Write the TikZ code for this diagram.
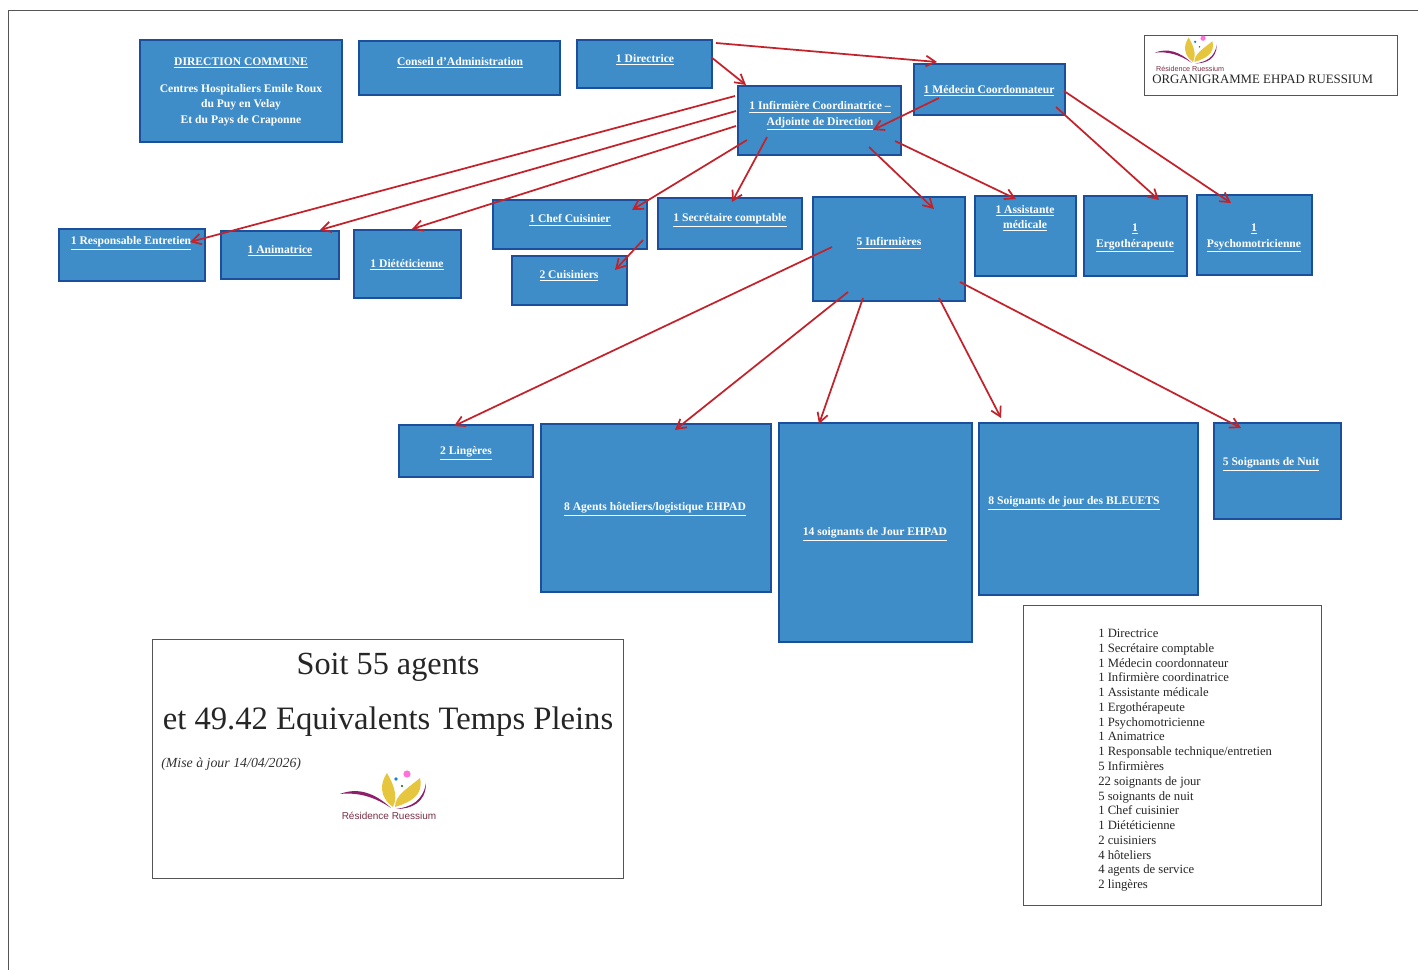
\documentclass[tikz,border=0pt]{standalone}
\usepackage{fontspec}
\setmainfont{Liberation Serif}
\setsansfont{Liberation Sans}
\usetikzlibrary{arrows.meta}
\definecolor{boxfill}{HTML}{3E8DC9}
\definecolor{boxline}{HTML}{1B4F9C}
\definecolor{arrowred}{HTML}{C4222B}
\definecolor{framegray}{HTML}{555555}
\definecolor{logoplum}{HTML}{8E1F6B}
\definecolor{logoyellow}{HTML}{E6C53F}
\definecolor{logotext}{HTML}{7A2F45}
\newcommand{\ulbox}[1]{$\underline{\hbox{#1}}$}
\tikzset{
  x=0.75pt,y=-0.75pt,
  bluebox/.style={draw=boxline,line width=1.6pt,fill=boxfill,inner sep=0pt},
  boxtext/.style={text=white,font=\bfseries\fontsize{8.7}{11.6}\selectfont,align=center,inner sep=0pt,yshift=-1.6pt},
  framebox/.style={draw=framegray,line width=0.7pt,fill=white,inner sep=0pt},
  redarrow/.style={draw=arrowred,line width=1.3pt,-{Straight Barb[length=7pt,width=8pt]}},
  logo/.pic={
    \fill[logoplum] (-53,-13) .. controls (-35,-20) and (-18,-14) .. (-2,1) .. controls (-18,-10) and (-35,-15) .. (-53,-13) -- cycle;
    \fill[logoyellow] (0,0) .. controls (-14,-10) and (-13,-24) .. (-6,-34) .. controls (-1,-25) and (6,-12) .. (0,0) -- cycle;
    \fill[logoyellow] (2,0) .. controls (2,-12) and (14,-18) .. (27,-29) .. controls (31,-12) and (18,-5) .. (2,0) -- cycle;
    \fill[logoplum] (3,2) .. controls (18,0) and (30,-6) .. (33,-24) .. controls (33,-4) and (18,2) .. (3,2) -- cycle;
    \fill[pink!60!magenta] (14,-33) circle[radius=3.6];
    \fill[cyan!70!blue] (3,-28) circle[radius=1.8];
    \fill[green!40!black] (9,-21) circle[radius=1.2];
    \node[transform shape,text=logotext,font=\sffamily\fontsize{7.5}{9}\selectfont,inner sep=0pt] (-text) at (-4,9) {Résidence Ruessium};
  }
}
\newcommand{\bx}[8]{%
  \node[bluebox,minimum width={(#4-#2-2)*0.75pt},minimum height={(#5-#3-2)*0.75pt}] (#1) at ({(#2+#4)/2},{(#3+#5)/2}) {};
  \node[boxtext] (#1-t) at (#6,#7) {#8};
}
\newcommand{\conn}[6]{\draw[redarrow] ([shift={(#2,#3)}]#1.center) -- ([shift={(#5,#6)}]#4.center);}
\begin{document}
\begin{tikzpicture}
\useasboundingbox (0,0) rectangle (1418,970);
\fill[white] (0,0) rectangle (1418,970);
\draw[framegray,line width=0.7pt] (8,970) -- (8,10) -- (1418,10);

\bx{dc}{139}{39}{343}{143}{241}{89.5}{\ulbox{DIRECTION COMMUNE}\\[9pt]Centres Hospitaliers Emile Roux\\du Puy en Velay\\Et du Pays de Craponne}
\bx{ca}{358}{40}{561}{96}{460}{61}{\ulbox{Conseil d’Administration}}
\bx{dir}{576}{39}{713}{89}{645}{58}{\ulbox{1 Directrice}}
\bx{inf}{737}{85}{902}{156}{820}{114}{\ulbox{1 Infirmière Coordinatrice –}\\\ulbox{Adjointe de Direction}}
\bx{med}{913}{63}{1066}{116}{989}{89}{\ulbox{1 Médecin Coordonnateur}}
\bx{resp}{58}{228}{206}{282}{131}{241}{\ulbox{1 Responsable Entretien}}
\bx{anim}{220}{230}{340}{280}{280}{249}{\ulbox{1 Animatrice}}
\bx{diet}{353}{229}{462}{299}{407}{263}{\ulbox{1 Diététicienne}}
\bx{chef}{492}{199}{648}{250}{570}{218}{\ulbox{1 Chef Cuisinier}}
\bx{cuis}{511}{255}{628}{306}{569}{274}{\ulbox{2 Cuisiniers}}
\bx{secr}{657}{197}{803}{250}{730}{218}{\ulbox{1 Secrétaire comptable}}
\bx{nur}{812}{196}{966}{302}{889}{241}{\ulbox{5 Infirmières}}
\bx{asst}{974}{195}{1077}{277}{1025}{216}{\ulbox{1 Assistante}\\\ulbox{médicale}}
\bx{ergo}{1083}{195}{1188}{277}{1135}{236}{\ulbox{1}\\\ulbox{Ergothérapeute}}
\bx{psy}{1196}{194}{1313}{276}{1254}{236}{\ulbox{1}\\\ulbox{Psychomotricienne}}
\bx{ling}{398}{424}{534}{478}{466}{451}{\ulbox{2 Lingères}}
\bx{agen}{540}{423}{772}{593}{655}{507}{\ulbox{8 Agents hôteliers/logistique EHPAD}}
\bx{soj}{778}{422}{973}{643}{875}{532}{\ulbox{14 soignants de Jour EHPAD}}
\bx{ble}{978}{422}{1199}{596}{1074}{501}{\ulbox{8 Soignants de jour des BLEUETS}}
\bx{nui}{1213}{422}{1342}{520}{1271}{462}{\ulbox{5 Soignants de Nuit}}

\conn{dir}{71.5}{-21}{med}{-52.5}{-27.5}
\conn{dir}{66.5}{-7}{inf}{-73.5}{-35.5}
\conn{inf}{-84.5}{-24.5}{resp}{58}{-13}
\conn{inf}{-83.5}{-9.5}{anim}{40}{-25}
\conn{inf}{-83.5}{5.5}{diet}{4.5}{-35}
\conn{inf}{-72.5}{19.5}{chef}{62}{-14.5}
\conn{inf}{-52.5}{16.5}{secr}{2}{-21.5}
\conn{med}{-50.5}{8.5}{inf}{53.5}{9.5}
\conn{inf}{49.5}{26.5}{nur}{45}{-40}
\conn{inf}{75.5}{20.5}{asst}{-9.5}{-37}
\conn{med}{66.5}{17.5}{ergo}{23.5}{-36}
\conn{med}{74.5}{1.5}{psy}{-23.5}{-32}
\conn{chef}{73}{15.5}{cuis}{45.5}{-10.5}
\conn{nur}{-57}{-2}{ling}{-12}{-25}
\conn{nur}{-41}{43}{agen}{19}{-78}
\conn{nur}{-26}{49}{soj}{-56.5}{-108.5}
\conn{nur}{50}{49}{ble}{-87.5}{-91}
\conn{nur}{71}{33}{nui}{-36.5}{-43}

% title block
\node[framebox,minimum width={253*0.75pt},minimum height={60*0.75pt}] (titlebox) at (1270.5,65) {};
\pic[scale=0.72] (toplogo) at (1193,62) {logo};
\node[anchor=west,inner sep=0pt,font=\fontsize{9.63}{12}\selectfont,text=black!85] (title) at (1152,79.5) {ORGANIGRAMME EHPAD RUESSIUM};

% total block
\node[framebox,minimum width={471*0.75pt},minimum height={239*0.75pt}] (totalbox) at (387.5,758.5) {};
\node[inner sep=0pt,font=\fontsize{24.2}{28}\selectfont,text=black!85] (soit) at (388,667) {Soit 55 agents};
\node[inner sep=0pt,font=\fontsize{24.5}{28}\selectfont,text=black!85] (etp) at (388,722) {et 49.42 Equivalents Temps Pleins};
\node[anchor=west,inner sep=0pt,font=\itshape\fontsize{10.4}{12}\selectfont,text=black!80] (maj) at (161,764) {(Mise à jour 14/04/2026)};
\pic (botlogo) at (393,807) {logo};

% list block
\node[framebox,minimum width={298*0.75pt},minimum height={300*0.75pt}] (listbox) at (1172,755) {};
\node[anchor=north west,inner sep=0pt,align=left,font=\fontsize{9.5}{11.07}\selectfont,text=black!85] (liste) at (1098,629) {1 Directrice\\1 Secrétaire comptable\\1 Médecin coordonnateur\\1 Infirmière coordinatrice\\1 Assistante médicale\\1 Ergothérapeute\\1 Psychomotricienne\\1 Animatrice\\1 Responsable technique/entretien\\5 Infirmières\\22 soignants de jour\\5 soignants de nuit\\1 Chef cuisinier\\1 Diététicienne\\2 cuisiniers\\4 hôteliers\\4 agents de service\\2 lingères};
\end{tikzpicture}
\end{document}
